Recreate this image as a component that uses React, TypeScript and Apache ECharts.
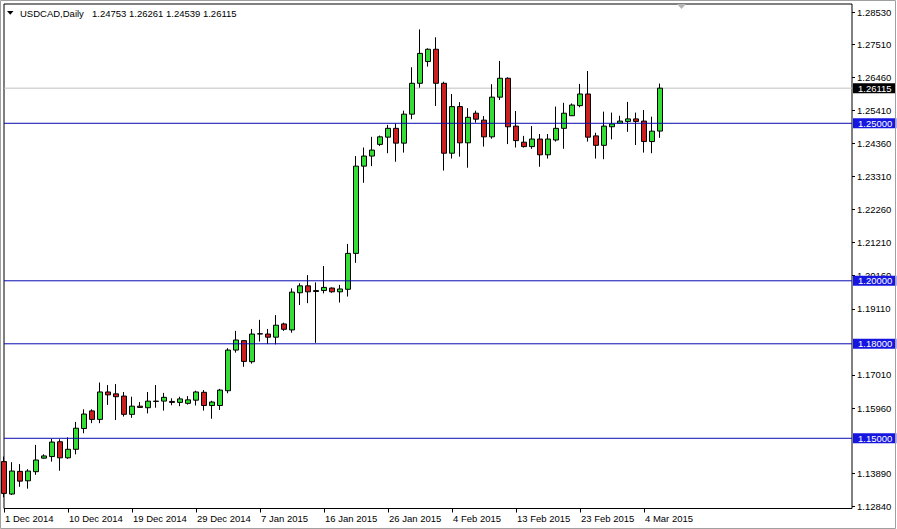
import React, { useEffect, useRef } from 'react';
import * as echarts from 'echarts';

const dates = [
  '1 Dec 2014', '2 Dec 2014', '3 Dec 2014', '4 Dec 2014', '5 Dec 2014', '7 Dec 2014', '8 Dec 2014', '9 Dec 2014',
  '10 Dec 2014', '11 Dec 2014', '12 Dec 2014', '14 Dec 2014', '15 Dec 2014', '16 Dec 2014', '17 Dec 2014', '18 Dec 2014',
  '19 Dec 2014', '21 Dec 2014', '22 Dec 2014', '23 Dec 2014', '24 Dec 2014', '25 Dec 2014', '26 Dec 2014', '28 Dec 2014',
  '29 Dec 2014', '30 Dec 2014', '31 Dec 2014', '1 Jan 2015', '2 Jan 2015', '4 Jan 2015', '5 Jan 2015', '6 Jan 2015',
  '7 Jan 2015', '8 Jan 2015', '9 Jan 2015', '11 Jan 2015', '12 Jan 2015', '13 Jan 2015', '14 Jan 2015', '15 Jan 2015',
  '16 Jan 2015', '18 Jan 2015', '19 Jan 2015', '20 Jan 2015', '21 Jan 2015', '22 Jan 2015', '23 Jan 2015', '25 Jan 2015',
  '26 Jan 2015', '27 Jan 2015', '28 Jan 2015', '29 Jan 2015', '30 Jan 2015', '1 Feb 2015', '2 Feb 2015', '3 Feb 2015',
  '4 Feb 2015', '5 Feb 2015', '6 Feb 2015', '8 Feb 2015', '9 Feb 2015', '10 Feb 2015', '11 Feb 2015', '12 Feb 2015',
  '13 Feb 2015', '15 Feb 2015', '16 Feb 2015', '17 Feb 2015', '18 Feb 2015', '19 Feb 2015', '20 Feb 2015', '22 Feb 2015',
  '23 Feb 2015', '24 Feb 2015', '25 Feb 2015', '26 Feb 2015', '27 Feb 2015', '1 Mar 2015', '2 Mar 2015', '3 Mar 2015',
  '4 Mar 2015', '5 Mar 2015', '6 Mar 2015',
];

const opens = [
  1.1426, 1.1323, 1.1395, 1.1365, 1.1394, 1.1437, 1.1442, 1.1489, 1.1438, 1.1465,
  1.1531, 1.1587, 1.1560, 1.1647, 1.1641, 1.1634, 1.1576, 1.1602, 1.1597, 1.1617,
  1.1618, 1.1617, 1.1614, 1.1611, 1.1621, 1.1646, 1.1604, 1.1604, 1.1651, 1.1780,
  1.1810, 1.1743, 1.1831, 1.1831, 1.1821, 1.1863, 1.1844, 1.1962, 1.1984, 1.1966,
  1.1969, 1.1977, 1.1965, 1.1973, 1.2087, 1.2364, 1.2396, 1.2433, 1.2456, 1.2484,
  1.2437, 1.2529, 1.2627, 1.2696, 1.2735, 1.2627, 1.2405, 1.2553, 1.2438, 1.2532,
  1.2510, 1.2457, 1.2583, 1.2643, 1.2491, 1.2440, 1.2426, 1.2450, 1.2400, 1.2447,
  1.2484, 1.2524, 1.2556, 1.2593, 1.2460, 1.2430, 1.2489, 1.2500, 1.2506, 1.2514,
  1.2507, 1.2442, 1.24753,
];

const highs = [
  1.1442, 1.1424, 1.1418, 1.1402, 1.1479, 1.1449, 1.1498, 1.1497, 1.1503, 1.1552,
  1.1592, 1.1592, 1.1677, 1.1669, 1.1672, 1.1647, 1.1632, 1.1615, 1.1647, 1.1669,
  1.1644, 1.1627, 1.1632, 1.1634, 1.1651, 1.1653, 1.1619, 1.1657, 1.1786, 1.1841,
  1.1812, 1.1847, 1.1876, 1.1847, 1.1891, 1.1867, 1.1976, 1.1992, 1.2018, 1.1995,
  1.2047, 1.1979, 1.1987, 1.2117, 1.2396, 1.2423, 1.2457, 1.2461, 1.2495, 1.2500,
  1.2540, 1.2678, 1.2798, 1.2738, 1.2773, 1.2632, 1.2593, 1.2567, 1.2548, 1.2540,
  1.2523, 1.2624, 1.2698, 1.2646, 1.2539, 1.2460, 1.2491, 1.2466, 1.2466, 1.2553,
  1.2565, 1.2563, 1.2625, 1.2666, 1.2470, 1.2537, 1.2534, 1.2524, 1.2568, 1.2534,
  1.2542, 1.2521, 1.26261,
];

const lows = [
  1.1313, 1.1320, 1.1346, 1.1340, 1.1384, 1.1435, 1.1426, 1.1397, 1.1435, 1.1449,
  1.1516, 1.1548, 1.1548, 1.1606, 1.1558, 1.1569, 1.1565, 1.1597, 1.1579, 1.1597,
  1.1588, 1.1605, 1.1602, 1.1607, 1.1604, 1.1588, 1.1562, 1.1590, 1.1643, 1.1772,
  1.1727, 1.1737, 1.1807, 1.1799, 1.1798, 1.1841, 1.1835, 1.1923, 1.1929, 1.1803,
  1.1960, 1.1962, 1.1931, 1.1950, 1.2057, 1.2311, 1.2364, 1.2428, 1.2405, 1.2378,
  1.2407, 1.2513, 1.2613, 1.2680, 1.2555, 1.2350, 1.2388, 1.2394, 1.2359, 1.2502,
  1.2426, 1.2451, 1.2574, 1.2434, 1.2423, 1.2423, 1.2419, 1.2362, 1.2388, 1.2442,
  1.2419, 1.2523, 1.2551, 1.2442, 1.2388, 1.2386, 1.2449, 1.2500, 1.2473, 1.2431,
  1.2407, 1.2405, 1.24539,
];

const closes = [
  1.1325, 1.1396, 1.1364, 1.1396, 1.1431, 1.1444, 1.1488, 1.1438, 1.1465, 1.1532,
  1.1577, 1.1560, 1.1647, 1.1638, 1.1632, 1.1576, 1.1602, 1.1598, 1.1618, 1.1618,
  1.1630, 1.1614, 1.1625, 1.1622, 1.1647, 1.1604, 1.1615, 1.1653, 1.1780, 1.1812,
  1.1744, 1.1831, 1.1832, 1.1821, 1.1859, 1.1846, 1.1964, 1.1984, 1.1965, 1.1969,
  1.1979, 1.1965, 1.1974, 1.2087, 1.2364, 1.2396, 1.2415, 1.2457, 1.2484, 1.2437,
  1.2529, 1.2627, 1.2722, 1.2735, 1.2627, 1.2405, 1.2553, 1.2438, 1.2519, 1.2513,
  1.2457, 1.2583, 1.2643, 1.2489, 1.2445, 1.2426, 1.2450, 1.2400, 1.2450, 1.2484,
  1.2532, 1.2558, 1.2593, 1.2456, 1.2430, 1.2491, 1.2498, 1.2507, 1.2514, 1.2506,
  1.2442, 1.2475, 1.26115,
];

const yTickLabels = [
  1.2853, 1.2751, 1.2646, 1.2541, 1.2436, 1.2331, 1.2226, 1.2121, 1.2016,
  1.1911, 1.1701, 1.1596, 1.1389, 1.1284,
];

const levels = [1.25, 1.2, 1.18, 1.15];

const symbolName = 'USDCAD,Daily';

const FONT = "'Liberation Sans', Arial, sans-serif";
const FS = 9.5;
const LEVEL_LINE = '#0a0ab0';
const LEVEL_BOX = '#1616e0';

export default function App() {
  const ref = useRef<HTMLDivElement>(null);

  useEffect(() => {
    document.body.style.margin = '0';
    const chart = echarts.init(ref.current!, null, { renderer: 'svg' });

    const emptySlots = 24;
    const axisCats = dates.concat(new Array(emptySlots).fill(''));
    const lastSlot = axisCats.length - 1;
    const candleData = opens.map((o, i) => [o, closes[i], lows[i], highs[i]]);
    const last = candleData.length - 1;
    const lastBar = [opens[last], highs[last], lows[last], closes[last]];
    const lastClose = closes[last];

    const isLabelIdx = (i: number) => i % 8 === 0 && i < dates.length;

    // horizontal line spanning the whole category axis, as a line series
    const spanData = (v: number) => axisCats.map((_, i) => (i === 0 || i === lastSlot ? v : null));

    const hLine = (name: string, v: number, lineColor: string, boxColor: string, z: number) => ({
      name,
      type: 'line',
      data: spanData(v),
      connectNulls: true,
      showSymbol: false,
      symbol: 'none',
      silent: true,
      z,
      clip: false,
      color: lineColor,
      lineStyle: { color: lineColor, width: 1, type: 'solid' },
      emphasis: { disabled: true },
      endLabel: {
        show: true,
        distance: 1,
        color: '#fff',
        backgroundColor: boxColor,
        fontFamily: FONT,
        fontSize: FS,
        lineHeight: 9,
        padding: [1, 4, 0, 5],
        formatter: () => v.toFixed(5),
      },
    });

    const option: any = {
      animation: false,
      backgroundColor: '#ffffff',
      title: {
        text: symbolName,
        left: 20,
        top: 8,
        padding: 0,
        textStyle: { fontFamily: FONT, fontSize: FS, fontWeight: 'normal', color: '#000', lineHeight: 11 },
      },
      grid: {
        left: 4,
        top: 4,
        right: 45,
        bottom: 20.5,
        show: true,
        borderColor: '#000',
        borderWidth: 1,
        backgroundColor: 'transparent',
      },
      xAxis: {
        type: 'category',
        data: axisCats,
        boundaryGap: false,
        axisLine: { show: false },
        axisTick: {
          show: true,
          length: 4,
          interval: (i: number) => isLabelIdx(i),
          lineStyle: { color: '#000' },
        },
        axisLabel: {
          interval: (i: number) => isLabelIdx(i),
          align: 'left',
          margin: 5,
          color: '#000',
          fontFamily: FONT,
          fontSize: FS,
          padding: [0, 0, 0, 1],
        },
        splitLine: { show: false },
      },
      yAxis: {
        type: 'value',
        position: 'right',
        min: 1.12771,
        max: 1.28787,
        scale: true,
        axisLine: { show: false },
        axisTick: {
          show: true,
          length: 3,
          customValues: yTickLabels,
          lineStyle: { color: '#000' },
        },
        axisLabel: {
          customValues: yTickLabels,
          margin: 5,
          color: '#000',
          fontFamily: FONT,
          fontSize: FS,
          formatter: (v: number) => v.toFixed(5),
        },
        splitLine: { show: false },
        minorSplitLine: { show: false },
      },
      series: [
        hLine('price line', lastClose, '#c0c0c0', '#000000', 1),
        {
          name: 'USDCAD',
          type: 'candlestick',
          data: candleData,
          barWidth: 5,
          clip: true,
          z: 2,
          itemStyle: {
            color: '#33dd33',
            color0: '#cc2020',
            borderColor: '#000',
            borderColor0: '#000',
            borderWidth: 1,
          },
        },
        ...levels.map((v, i) => hLine('level ' + i, v, LEVEL_LINE, LEVEL_BOX, 20)),
      ],
      graphic: [
        {
          type: 'rect',
          silent: true,
          z: 100,
          shape: { x: 0.5, y: 0.5, width: 895, height: 528 },
          style: { fill: 'none', stroke: '#a0a0a0', lineWidth: 1 },
        },
        {
          type: 'polygon',
          silent: true,
          z: 100,
          shape: { points: [[7, 11], [13.5, 11], [10.25, 14.8]] },
          style: { fill: '#000' },
        },
        {
          type: 'polygon',
          silent: true,
          z: 100,
          shape: { points: [[677, 4], [686, 4], [681.5, 9]] },
          style: { fill: '#b4b4b4' },
        },
        {
          type: 'text',
          silent: true,
          z: 100,
          x: 92,
          y: 13.5,
          style: {
            text: lastBar.map((v) => v.toFixed(5)).join(' '),
            fontFamily: FONT,
            fontSize: FS,
            fill: '#000',
            verticalAlign: 'middle',
            align: 'left',
          },
        },
      ],
    };

    chart.setOption(option);
    return () => chart.dispose();
  }, []);

  return <div ref={ref} style={{ width: 897, height: 529 }} />;
}
